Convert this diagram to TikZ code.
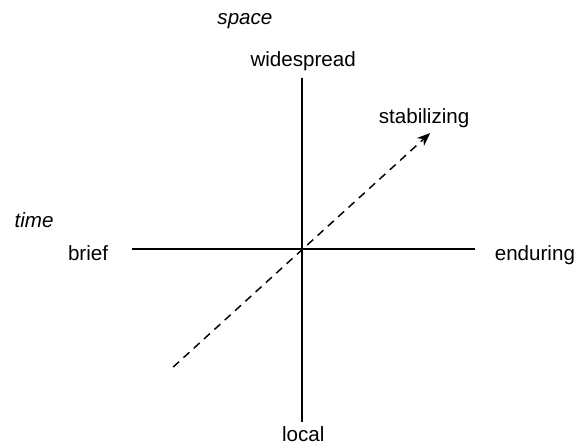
\documentclass[tikz,border=0pt]{standalone}
\usepackage{fontspec}
\setmainfont{Liberation Sans}
\usetikzlibrary{arrows.meta}

\begin{document}
\begin{tikzpicture}[x=1cm, y=1cm,
  axis/.style={black, line width=1.1pt},
  trend/.style={-{Stealth[length=10pt, width=8pt]}, black, line width=1.1pt,
                dash pattern=on 6pt off 4.5pt},
  pole/.style={anchor=base, inner sep=0pt, font=\fontsize{15.5}{18}\selectfont},
  dim/.style={pole, font=\fontsize{15.5}{18}\selectfont\itshape}]
  \useasboundingbox (0,0) rectangle (15.29,11.80);
  % axis ends
  \coordinate (top) at (7.99,9.74);
  \coordinate (bottom) at (7.99,0.64);
  \coordinate (left) at (3.49,5.21);
  \coordinate (right) at (12.57,5.21);
  \coordinate (from) at (4.58,2.09);
  \coordinate (to) at (11.38,8.28);
  % labels
  \node[dim] (space) at (6.48,11.14) {space};
  \node[dim] (time) at (0.90,5.79) {time};
  \node[pole] (widespread) at (8.02,10.03) {widespread};
  \node[pole] (local) at (8.02,0.11) {local};
  \node[pole] (brief) at (2.33,4.92) {brief};
  \node[pole] (enduring) at (14.15,4.92) {enduring};
  \node[pole] (stabilizing) at (11.22,8.54) {stabilizing};
  % axes
  \draw[axis] (top) -- (bottom);
  \draw[axis] (left) -- (right);
  \draw[trend] (from) -- (to);
\end{tikzpicture}
\end{document}
